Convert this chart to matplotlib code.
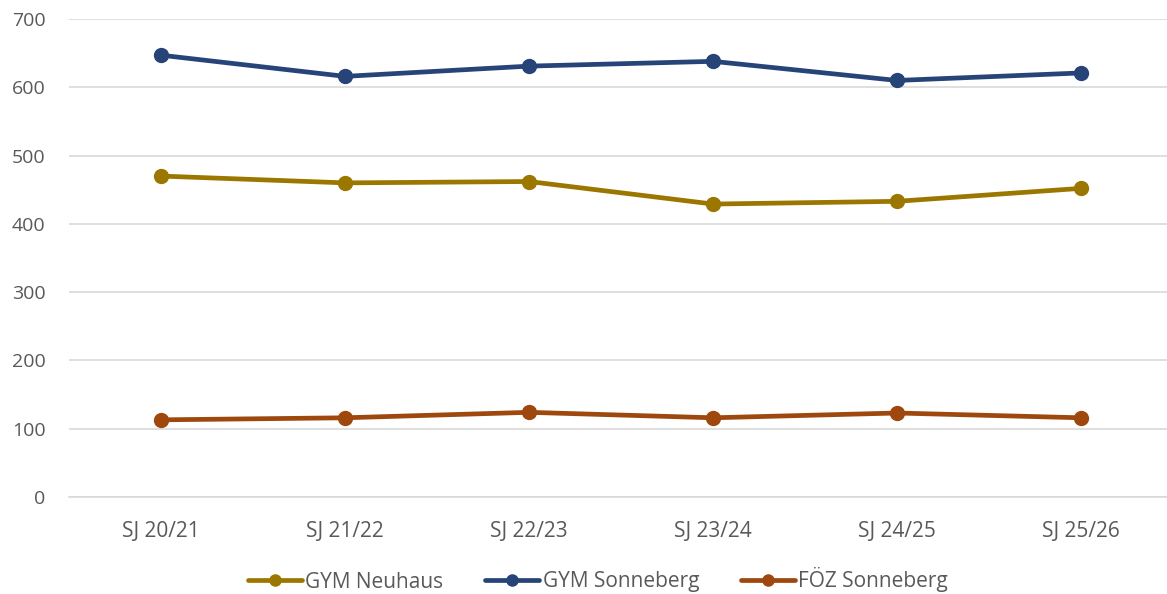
import matplotlib
matplotlib.use("Agg")
import matplotlib.pyplot as plt

categories = ["SJ 20/21", "SJ 21/22", "SJ 22/23", "SJ 23/24", "SJ 24/25", "SJ 25/26"]
gym_neuhaus = [470, 460, 462, 429, 433, 452]
gym_sonneberg = [647, 616, 631, 638, 610, 621]
foez_sonneberg = [113, 116, 124, 116, 123, 116]
yticks = [0, 100, 200, 300, 400, 500, 600, 700]

fig = plt.figure(figsize=(11.67, 5.94), dpi=100)
ax = fig.add_axes([69/1167, 1-497/594, (1173-69)/1167, (497-19)/594])

x = list(range(len(categories)))
series = [("GYM Neuhaus", gym_neuhaus, "#9C7700"),
          ("GYM Sonneberg", gym_sonneberg, "#264478"),
          ("FÖZ Sonneberg", foez_sonneberg, "#9E480E")]
for name, vals, col in series:
    ax.plot(x, vals, color=col, lw=3.4, marker="o", ms=10, label=name,
            solid_capstyle="round", zorder=3, clip_on=False)

ax.set_ylim(0, 700)
ax.set_yticks(yticks)
ax.set_xlim(-0.5, 5.5)
ax.set_xticks(x)
ax.set_xticklabels(categories, fontfamily="Open Sans", fontsize=15, color="#595959")
for lab in ax.get_yticklabels():
    lab.set_fontfamily("Open Sans")
    lab.set_fontsize(14)
    lab.set_color("#595959")
ax.grid(axis="y", color="#D9D9D9", lw=1.2, zorder=0)
ax.tick_params(axis="both", length=0)
ax.tick_params(axis="x", pad=17)
ax.tick_params(axis="y", pad=17)
for s in ["top", "right", "left"]:
    ax.spines[s].set_visible(False)
ax.spines["bottom"].set_color("#D9D9D9")
ax.spines["bottom"].set_linewidth(1.2)

leg = fig.legend(loc="center", bbox_to_anchor=(598/1167, 1-580/594), ncol=3,
                 frameon=False, prop={"family": "Open Sans", "size": 15},
                 handlelength=2.6, handletextpad=0.15, columnspacing=2.0, markerscale=0.8)
for t in leg.get_texts():
    t.set_color("#595959")

fig.savefig("out.png", dpi=100)
